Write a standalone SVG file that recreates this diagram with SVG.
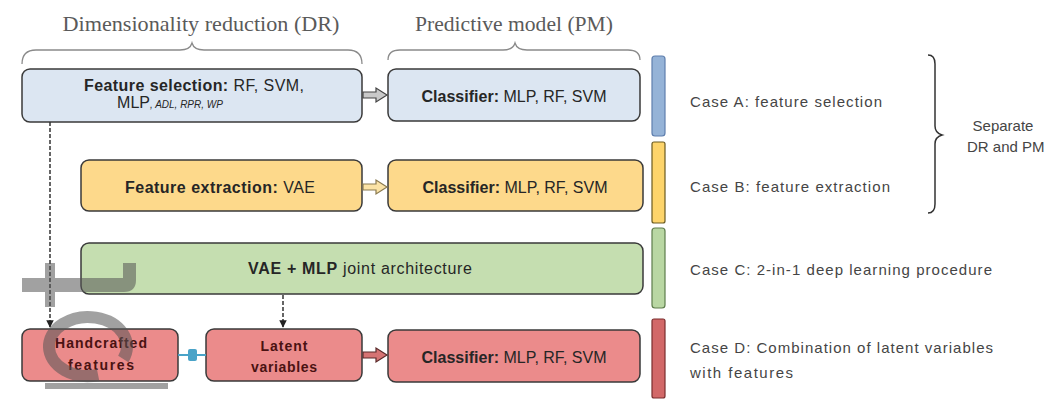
<svg xmlns="http://www.w3.org/2000/svg" width="1048" height="400" viewBox="0 0 1048 400">
  <style>
    .title { font-family: "Liberation Serif", serif; font-size: 21px; fill: #5a5a5a; text-anchor: middle; }
    .box { stroke: #3a3a3a; stroke-width: 1.5; }
    .blue { fill: #dce6f2; }
    .yellow { fill: #fdd98b; }
    .green { fill: #c5deb0; }
    .red { fill: #eb8b8b; }
    .lbl { font-family: "Liberation Sans", Arial, sans-serif; font-size: 16px; fill: #262626; text-anchor: middle; }
    .lbl .b { font-weight: bold; }
    .dlbl { font-family: "Liberation Sans", Arial, sans-serif; font-size: 14px; font-weight: bold; fill: #4a1212; text-anchor: middle; }
    .case { font-family: "Liberation Sans", Arial, sans-serif; font-size: 15px; fill: #454545; }
    .brace { fill: none; stroke: #8a8a8a; stroke-width: 1.3; }
    .dash { fill: none; stroke: #333; stroke-width: 1.5; stroke-dasharray: 4 2; }
  </style>
  <defs>
    <marker id="ah" viewBox="0 0 10 10" refX="9" refY="5" markerWidth="5" markerHeight="5" orient="auto">
      <path d="M0,0 L10,5 L0,10 Z" fill="#222"/>
    </marker>
  </defs>

  <rect width="1048" height="400" fill="#ffffff"/>

  <!-- column headings and braces -->
  <g id="headings">
    <text class="title" x="201" y="31" textLength="277" lengthAdjust="spacingAndGlyphs">Dimensionality  reduction (DR)</text>
    <text class="title" x="514" y="31" textLength="198" lengthAdjust="spacingAndGlyphs">Predictive model (PM)</text>
    <path class="brace" d="M22,64 Q22,50 36,50 L180,50 Q190,50 192,43 Q194,50 204,50 L348,50 Q362,50 362,64"/>
    <path class="brace" d="M388,60 Q388,50 400,50 L503,50 Q513,50 515,43 Q517,50 527,50 L628,50 Q640,50 640,60"/>
  </g>

  <!-- Case A -->
  <g id="fs">
    <rect class="box blue" x="22" y="69" width="340" height="53" rx="8"/>
    <text class="lbl" x="194" y="91" textLength="220"><tspan class="b">Feature selection:</tspan> RF, SVM,</text>
    <text class="lbl" x="170" y="108"><tspan>MLP</tspan><tspan font-size="10" font-style="italic">, ADL, RPR, WP</tspan></text>
  </g>
  <g id="clfA">
    <rect class="box blue" x="388" y="69" width="252" height="52" rx="8"/>
    <text class="lbl" x="514" y="102" textLength="185"><tspan class="b">Classifier:</tspan> MLP, RF, SVM</text>
  </g>

  <!-- Case B -->
  <g id="fe">
    <rect class="box yellow" x="81" y="160" width="281" height="51" rx="8"/>
    <text class="lbl" x="220" y="193" textLength="190"><tspan class="b">Feature extraction:</tspan>  VAE</text>
  </g>
  <g id="clfB">
    <rect class="box yellow" x="388" y="160" width="255" height="51" rx="8"/>
    <text class="lbl" x="515" y="193" textLength="185"><tspan class="b">Classifier:</tspan> MLP, RF, SVM</text>
  </g>

  <!-- Case C -->
  <g id="joint">
    <rect class="box green" x="81" y="243" width="562" height="51" rx="8"/>
    <text class="lbl" x="360" y="274" textLength="224"><tspan class="b">VAE + MLP</tspan> joint architecture</text>
  </g>

  <!-- Case D -->
  <g id="hand">
    <rect class="box red" x="22" y="329" width="156" height="52" rx="8"/>
    <text class="dlbl" x="101" y="348" textLength="92">Handcrafted</text>
    <text class="dlbl" x="101" y="370" textLength="66">features</text>
  </g>
  <g id="latent">
    <rect class="box red" x="206" y="329" width="156" height="52" rx="8"/>
    <text class="dlbl" x="284" y="351" textLength="47">Latent</text>
    <text class="dlbl" x="284" y="372" textLength="66">variables</text>
  </g>
  <g id="clfD">
    <rect class="box red" x="388" y="330" width="252" height="52" rx="8"/>
    <text class="lbl" x="514" y="363" textLength="185"><tspan class="b">Classifier:</tspan> MLP, RF, SVM</text>
  </g>

  <!-- case colour bars and captions -->
  <g id="caseA">
    <rect x="652" y="56" width="13" height="80" rx="3" fill="#95b3d7" stroke="#5f7fae" stroke-width="1.2"/>
    <text class="case" x="690" y="107" textLength="192">Case A: feature selection</text>
  </g>
  <g id="caseB">
    <rect x="652" y="142" width="13" height="81" rx="2" fill="#fdd46b" stroke="#6b5a20" stroke-width="1.2"/>
    <text class="case" x="690" y="192" textLength="200">Case B: feature extraction</text>
  </g>
  <g id="caseC">
    <rect x="652" y="228" width="13" height="80" rx="3" fill="#b9d7a3" stroke="#5e7d4c" stroke-width="1.2"/>
    <text class="case" x="690" y="275" textLength="302">Case C: 2-in-1 deep learning procedure</text>
  </g>
  <g id="caseD">
    <rect x="652" y="319" width="13" height="79" rx="2" fill="#d26868" stroke="#7a2d2d" stroke-width="1.2"/>
    <text class="case" x="690" y="353" textLength="303">Case D: Combination of latent variables</text>
    <text class="case" x="690" y="378" textLength="103">with features</text>
  </g>

  <!-- grouping of cases A and B -->
  <g id="separate">
    <path d="M928,55 Q935,55 935,64 L935,126 Q935,133 942,135 Q935,137 935,144 L935,204 Q935,213 928,213" fill="none" stroke="#333" stroke-width="1.5"/>
    <text class="case" x="1003" y="131" font-size="13" text-anchor="middle">Separate</text>
    <text class="case" x="967" y="152" font-size="13">DR and PM</text>
  </g>

  <!-- connectors -->
  <g id="connectors">
    <path class="dash" d="M50,122 V327" marker-end="url(#ah)"/>
    <path class="dash" d="M283,295 V327" marker-end="url(#ah)"/>
    <!-- block arrows between stages -->
    <path d="M363,92 H376 V88 L387,95 L376,102 V98 H363 Z" fill="#c9c9c9" stroke="#444" stroke-width="1.2"/>
    <path d="M363,184 H376 V180 L387,187 L376,194 V190 H363 Z" fill="#fbe3a6" stroke="#8a7a50" stroke-width="1.2"/>
    <path d="M363,352 H376 V348 L387,355 L376,362 V358 H363 Z" fill="#d67474" stroke="#5a2a2a" stroke-width="1.2"/>
    <!-- link between handcrafted features and latent variables -->
    <path d="M178,355 H206" stroke="#4aa3c8" stroke-width="2"/>
    <rect x="188" y="349" width="9" height="12" rx="2" fill="#4aa3c8"/>
  </g>

  <!-- grey overlay marks -->
  <g opacity="0.55" fill="#555">
    <path d="M22,278 H45 V263 H55 V278 H123 V263 H136 V280 Q136,292 124,292 H55 V307 H45 V292 H22 Z"/>
    <path d="M123.3,359 A39,29.5 0 1 0 98.1,375" fill="none" stroke="#555" stroke-width="12"/>
    <rect x="45" y="383" width="123" height="6"/>
  </g>
</svg>
